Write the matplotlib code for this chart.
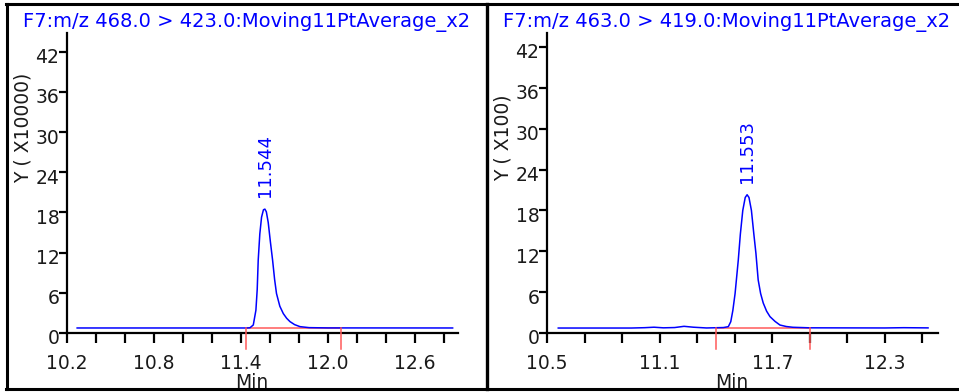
import numpy as np
import matplotlib
matplotlib.use("Agg")
import matplotlib.pyplot as plt
from matplotlib.lines import Line2D
import matplotlib.transforms as mtransforms

plt.rcParams['font.family'] = ['DejaVu Sans']

# ---------------- data ----------------
titles = ["F7:m/z 468.0 > 423.0:Moving11PtAverage_x2",
          "F7:m/z 463.0 > 419.0:Moving11PtAverage_x2"]
ylabels = ["Y ( X10000)", "Y ( X100)"]
xlabel = "Min"
peak_labels = ["11.544", "11.553"]
peak_apex_t = [11.565, 11.566]
peak_apex_y = [18.5, 20.3]

# left chromatogram (time in min, intensity in axis units)
t1 = [10.27, 11.00, 11.44, 11.462, 11.485, 11.503, 11.512, 11.519, 11.530,
      11.542, 11.555, 11.565, 11.575, 11.588, 11.603, 11.618, 11.632, 11.645,
      11.668, 11.692, 11.715, 11.738, 11.77, 11.807, 11.87, 12.0, 12.86]
y1 = [0.75, 0.75, 0.75, 0.78, 1.2, 3.4, 6.5, 10.9, 14.8,
      17.3, 18.4, 18.5, 18.1, 16.5, 13.6, 10.9, 8.0, 5.9,
      4.0, 2.9, 2.2, 1.7, 1.25, 0.95, 0.8, 0.76, 0.75]

# right chromatogram
t2 = [10.56, 10.95, 11.02, 11.07, 11.12, 11.18, 11.23, 11.28, 11.35, 11.44,
      11.466, 11.479, 11.49, 11.502, 11.519, 11.530, 11.543, 11.556, 11.566,
      11.576, 11.589, 11.602, 11.613, 11.625, 11.638, 11.652, 11.67, 11.688,
      11.715, 11.741, 11.775, 11.81, 11.9, 12.3, 12.4, 12.53]
y2 = [0.73, 0.73, 0.78, 0.85, 0.76, 0.80, 0.98, 0.85, 0.74, 0.80,
      0.93, 1.66, 3.3, 5.8, 10.7, 14.5, 18.0, 19.9, 20.3,
      19.9, 18.0, 14.5, 11.7, 7.8, 5.8, 4.4, 3.2, 2.4,
      1.7, 1.17, 0.95, 0.84, 0.76, 0.74, 0.78, 0.75]

# integration markers (start, end, baseline)
integ = [(11.434, 12.09, 0.75), (11.40, 11.90, 0.73)]

# axes ranges and ticks
xlims = [(10.2, 12.897), (10.5, 12.583)]
ylims = [(0, 44.8), (0, 44.05)]
xticks_minor = [np.round(np.arange(10.2, 12.81, 0.2), 1), np.round(np.arange(10.5, 12.51, 0.2), 1)]
xtick_major = [[10.2, 10.8, 11.4, 12.0, 12.6], [10.5, 11.1, 11.7, 12.3]]
xtick_major_labels = [["10.2", "10.8", "11.4", "12.0", "12.6"], ["10.5", "11.1", "11.7", "12.3"]]
yticks = [0, 6, 12, 18, 24, 30, 36, 42]
ytick_labels = ["0", "6", "12", "18", "24", "30", "36", "42"]

series = [(t1, y1), (t2, y2)]

# ---------------- layout ----------------
W, H = 959, 392
fig = plt.figure(figsize=(W / 100, H / 100), dpi=100)

def fx(px):
    return px / W

def fy(py):
    return 1 - py / H

ax_px = [(67, 458), (547, 938)]
top_px, bot_px = 33, 333
title_cx = [247, 727]
ylabel_cx = [(23, 128), (503, 138)]
min_cx = [252, 732]

BLUE = "#0000ff"
RED = "#ff5a5a"
TXT = "#1a1a1a"
FS = 13.5

for i in range(2):
    l, r = ax_px[i]
    ax = fig.add_axes([fx(l), fy(bot_px), fx(r - l), (bot_px - top_px) / H])
    t, y = series[i]
    ax.plot(t, y, color=BLUE, lw=1.1, zorder=3)
    s, e, b = integ[i]
    ax.plot([s, e], [b, b], color=RED, lw=1.1, zorder=2)
    for xx in (s, e):
        ax.plot([xx, xx], [b, -2.4 * (ylims[i][1] / 44.8)], color=RED, lw=1.1,
                clip_on=False, zorder=4)
    ax.set_xlim(*xlims[i])
    ax.set_ylim(*ylims[i])
    for sp in ("top", "right"):
        ax.spines[sp].set_visible(False)
    for sp in ("left", "bottom"):
        ax.spines[sp].set_linewidth(1.6)
        ax.spines[sp].set_color("black")
    ax.set_xticks(xtick_major[i])
    ax.set_xticklabels(xtick_major_labels[i])
    ax.set_xticks(xticks_minor[i], minor=True)
    ax.tick_params(axis="x", which="both", direction="out", length=7.5, width=1.6,
                   color="black")
    ax.tick_params(axis="x", which="major", pad=7.5, labelsize=FS, labelcolor=TXT)
    ax.set_yticks(yticks)
    ax.set_yticklabels(ytick_labels)
    ax.tick_params(axis="y", direction="out", length=5.5, width=1.6, pad=0,
                   labelsize=FS, labelcolor=TXT)
    off = mtransforms.ScaledTranslation(0, -4 / 100, fig.dpi_scale_trans)
    for lab in ax.get_yticklabels():
        lab.set_transform(lab.get_transform() + off)
    ax.set_facecolor("none")
    # peak label
    ax.annotate(peak_labels[i], xy=(peak_apex_t[i], peak_apex_y[i]), xytext=(0, 12),
                textcoords="offset pixels", rotation=90, ha="center", va="bottom",
                color=BLUE, fontsize=13)
    fig.text(fx(title_cx[i]), fy(21.5), titles[i], ha="center", va="center",
             color=BLUE, fontsize=14)
    fig.text(fx(ylabel_cx[i][0]), fy(ylabel_cx[i][1]), ylabels[i], rotation=90,
             ha="center", va="center", color=TXT, fontsize=FS)
    fig.text(fx(min_cx[i]), fy(388), xlabel, ha="center", va="baseline",
             color=TXT, fontsize=FS)

# frame lines
def hline(y, x0, x1, lw):
    fig.add_artist(Line2D([fx(x0), fx(x1)], [fy(y), fy(y)], color="black", lw=lw, zorder=10))

def vline(x, y0, y1, lw):
    fig.add_artist(Line2D([fx(x), fx(x)], [fy(y0), fy(y1)], color="black", lw=lw, zorder=10))

hline(4, 6, 959, 2.2)
hline(388.5, 6, 959, 2.2)
vline(7, 4, 389, 2.2)
vline(487, 4, 389, 2.4)

fig.savefig("out.png", dpi=100)
